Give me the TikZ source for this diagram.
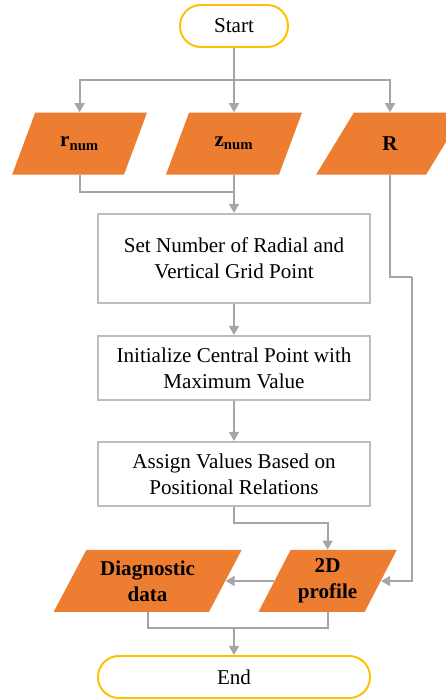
\documentclass[tikz,border=0pt]{standalone}
\usepackage{fontspec}
\setmainfont{Liberation Serif}
\usepackage{xcolor}
\usepackage{tikz}
\usetikzlibrary{shapes.geometric, arrows.meta, positioning}

\definecolor{flowline}{HTML}{A5A5A5}
\definecolor{boxline}{HTML}{BDBDBD}
\definecolor{iofill}{HTML}{ED7D31}
\definecolor{termline}{HTML}{FFC000}

\begin{document}
\begin{tikzpicture}[font=\fontsize{15}{18.5}\selectfont]
\tikzstyle{term}=[rectangle,rounded corners=0.52cm,draw=termline,line width=1.4pt,fill=white,minimum width=6.8cm,minimum height=1.05cm]
\tikzstyle{process}=[rectangle,draw=boxline,line width=1.4pt,minimum width=6.8cm,align=center]
\tikzstyle{io}=[trapezium,trapezium left angle=61,trapezium right angle=119,trapezium stretches=true,fill=iofill,minimum height=1.55cm,align=center,font=\fontsize{15}{18.5}\selectfont\bfseries]
\tikzstyle{line}=[draw=flowline,line width=1.4pt]
\tikzstyle{arr}=[line,-{Triangle[width=7pt,length=6.5pt]}]

\useasboundingbox (0,0) rectangle (11.15,17.5);
\clip (0,0) rectangle (11.15,17.5);

% Start
\node[term,minimum width=2.7cm] (start) at (5.85,16.85) {Start};
% Inputs
\node[io,minimum width=3.375cm] (rnum) at (1.99,13.91) {r\textsubscript{num}};
\node[io,minimum width=3.4cm] (znum) at (5.85,13.91) {z\textsubscript{num}};
\node[io,minimum width=3.7cm] (R) at (9.75,13.91) {R};
% Grid steps
\node[process,minimum height=2.225cm] (grid) at (5.85,11.04) {Set Number of Radial and\\Vertical Grid Point};
\node[process,minimum height=1.6cm] (init) at (5.85,8.3) {Initialize Central Point with\\Maximum Value};
\node[process,minimum height=1.6cm] (assign) at (5.85,5.65) {Assign Values Based on\\Positional Relations};
% Outputs
\node[io,minimum width=4.7cm] (diag) at (3.69,2.975) {Diagnostic\\data};
\node[io,minimum width=3.475cm] (prof) at (8.19,2.975) {2D\\profile};
% End
\node[term] (end) at (5.85,0.575) {End};

\coordinate (fork) at (5.85,15.5);
\coordinate (join) at (5.85,12.7);
\coordinate (bend) at (10.3,10.575);
\coordinate (merge) at (5.85,1.8);

\draw[arr] (start) -- (znum);
\draw[arr] (fork) -| (rnum.north);
\draw[arr] (fork) -| (R.north);
\draw[line] (rnum.south) |- (join);
\draw[arr] (znum) -- (grid);
\draw[arr] (grid) -- (init);
\draw[arr] (init) -- (assign);
\draw[arr] (assign.south) -- ++(0,-0.4) -| (prof.north);
\draw[line] (R.south) |- (bend);
\draw[arr] (bend) |- (prof);
\draw[arr] (prof) -- (diag);
\draw[line] (diag.south) |- (merge) -| (prof.south);
\draw[arr] (merge) -- (end);

\end{tikzpicture}
\end{document}
